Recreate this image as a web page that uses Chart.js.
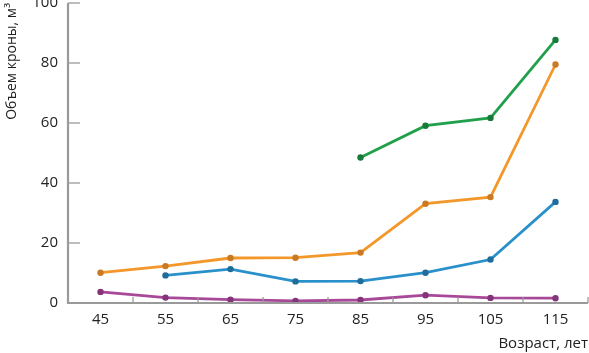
<!DOCTYPE html>
<html>
<head>
<meta charset="utf-8">
<script src="https://cdn.jsdelivr.net/npm/chart.js@4"></script>
<style>
  html, body { margin: 0; padding: 0; background: #fff; }
  #wrap { width: 589px; height: 353px; position: relative; }
</style>
</head>
<body>
<div id="wrap"><canvas id="chart"></canvas></div>
<script>
// ages (x) and crown volume, m3 (y)
const ages = [45, 55, 65, 75, 85, 95, 105, 115];
const greenSeries = [null, null, null, null, 48.5, 59.1, 61.7, 87.7];
const orangeSeries = [10.1, 12.3, 15.0, 15.1, 16.8, 33.1, 35.3, 79.5];
const blueSeries = [null, 9.2, 11.3, 7.2, 7.3, 10.1, 14.5, 33.7];
const purpleSeries = [3.7, 1.8, 1.1, 0.7, 1.0, 2.6, 1.7, 1.6];
const yTicks = [0, 20, 40, 60, 80, 100];
const xMinorTicks = [50, 60, 70, 80, 90, 100, 110, 120];

const toPoints = vals => ages.map((a, i) => ({ x: a, y: vals[i] }));

const makeSet = (vals, color, pointColor) => ({
    data: toPoints(vals),
    borderColor: color,
    backgroundColor: pointColor,
    pointBackgroundColor: pointColor,
    pointBorderColor: pointColor,
    pointRadius: 1.8,
    borderWidth: 2.8,
    spanGaps: false,
    tension: 0
});

const font = "'Open Sans', sans-serif";
const axisColor = '#9a9a9a';

// draws the axis lines and inward tick marks
const innerTicks = {
    id: 'innerTicks',
    afterDraw(chart) {
        const ctx = chart.ctx;
        const xs = chart.scales.x;
        const ys = chart.scales.y;
        const left = chart.chartArea.left;
        const bottom = chart.chartArea.bottom;
        ctx.save();
        ctx.strokeStyle = axisColor;
        ctx.lineWidth = 1.3;
        yTicks.forEach(v => {
            const py = ys.getPixelForValue(v);
            ctx.beginPath();
            ctx.moveTo(left, py);
            ctx.lineTo(left + 12, py);
            ctx.stroke();
        });
        xMinorTicks.forEach(v => {
            const px = xs.getPixelForValue(v);
            ctx.beginPath();
            ctx.moveTo(px, bottom);
            ctx.lineTo(px, bottom - 6);
            ctx.stroke();
        });
        ctx.lineWidth = 2.2;
        ctx.beginPath();
        ctx.moveTo(left, ys.getPixelForValue(100));
        ctx.lineTo(left, bottom);
        ctx.lineTo(chart.chartArea.right, bottom);
        ctx.stroke();
        ctx.restore();
    }
};

new Chart(document.getElementById('chart'), {
    type: 'line',
    data: {
        datasets: [
            makeSet(greenSeries, '#21a04c', '#177a38'),
            makeSet(orangeSeries, '#f3972a', '#c97a22'),
            makeSet(blueSeries, '#2a90cb', '#1f6d9b'),
            makeSet(purpleSeries, '#a84899', '#84357a')
        ]
    },
    options: {
        responsive: true,
        maintainAspectRatio: false,
        animation: false,
        layout: { autoPadding: false, padding: { top: 3, right: 1, left: 0, bottom: 0 } },
        plugins: { legend: { display: false }, tooltip: { enabled: false } },
        scales: {
            x: {
                type: 'linear',
                min: 40,
                max: 120,
                afterBuildTicks: scale => { scale.ticks = ages.map(v => ({ value: v })); },
                afterFit: scale => { scale.height = 50; },
                grid: { display: false, drawTicks: false },
                border: { display: false },
                ticks: { color: '#222', font: { family: font, size: 15 }, padding: 8, maxRotation: 0 },
                title: {
                    display: true,
                    text: 'Возраст, лет',
                    align: 'end',
                    color: '#222',
                    font: { family: font, size: 15 },
                    padding: { top: 0, bottom: 0 }
                }
            },
            y: {
                min: 0,
                max: 100,
                afterBuildTicks: scale => { scale.ticks = yTicks.map(v => ({ value: v })); },
                afterFit: scale => {
                    scale.width = 68;
                    scale.paddingTop = 0;
                    scale.paddingBottom = 0;
                },
                grid: { display: false, drawTicks: false },
                border: { display: false },
                ticks: { color: '#222', font: { family: font, size: 15 }, padding: 10 },
                title: {
                    display: true,
                    text: 'Объем кроны, м³',
                    align: 'end',
                    color: '#222',
                    font: { family: font, size: 14 },
                    padding: { top: 4, bottom: 0 }
                }
            }
        }
    },
    plugins: [innerTicks]
});
</script>
</body>
</html>
